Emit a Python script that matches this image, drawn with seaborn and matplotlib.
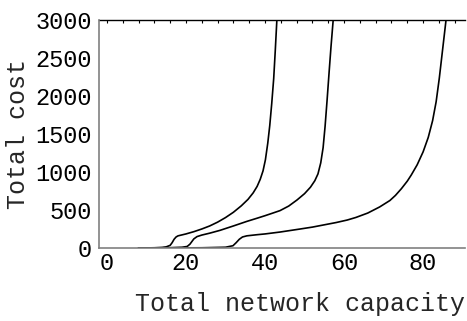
import matplotlib
matplotlib.use("Agg")
import matplotlib.pyplot as plt
import seaborn as sns
import pandas as pd
from matplotlib.ticker import MultipleLocator

# Data
curve1_x = [8, 10, 12, 14, 15, 16, 16.5, 17, 17.5, 18, 20, 22, 24, 26, 28, 30, 32, 34,
            35.7, 37, 38, 38.8, 39.5, 40.1, 40.7, 41.2, 41.7, 42.2, 42.6, 43.0]
curve1_y = [0, 1, 3, 8, 15, 35, 70, 115, 145, 160, 185, 215, 250, 290, 340, 400, 470, 555,
            640, 725, 810, 905, 1015, 1160, 1380, 1610, 1900, 2230, 2600, 3000]
curve2_x = [8, 12, 16, 19, 20.3, 21, 21.5, 22, 22.8, 24, 26, 28.6, 32, 35.4, 38, 40, 42,
            43.8, 46, 48.1, 50, 51.5, 52.6, 53.4, 54.1, 54.7, 55.2, 55.7, 56.2, 56.7, 57.25]
curve2_y = [0, 1, 4, 10, 20, 50, 85, 120, 150, 170, 195, 232, 290, 350, 392, 425, 460,
            492, 552, 632, 715, 800, 885, 975, 1120, 1320, 1600, 1940, 2300, 2650, 3000]
curve3_x = [8, 16, 24, 30, 31.9, 32.7, 33.5, 34.3, 35.4, 38, 40, 43.8, 48.9, 52, 55, 58,
            60.8, 63, 66, 69, 71.6, 73, 74.5, 76, 77, 78.5, 80, 81.3, 82.4, 83.3, 84.1, 84.9, 85.8]
curve3_y = [0, 1, 3, 10, 30, 70, 115, 145, 160, 175, 185, 210, 250, 275, 305, 335,
            368, 402, 460, 540, 625, 692, 780, 880, 960, 1095, 1265, 1455, 1675, 1925, 2235, 2595, 3000]

x_label = "Total network capacity"
y_label = "Total cost"

sns.set_style("white")
plt.rcParams['font.family'] = ['Liberation Mono', 'DejaVu Sans Mono']

fig = plt.figure(figsize=(4.67, 3.21), dpi=100)
ax = fig.add_axes([99 / 467, 1 - 248 / 321, (465 - 99) / 467, (248 - 20) / 321])

for xs, ys in [(curve1_x, curve1_y), (curve2_x, curve2_y), (curve3_x, curve3_y)]:
    df = pd.DataFrame({"x": xs, "y": ys})
    sns.lineplot(data=df, x="x", y="y", ax=ax, color="black", linewidth=1.2,
                 sort=False, estimator=None)

ax.set_xlim(-2, 90.6)
ax.set_ylim(0, 3000)

ax.xaxis.set_major_locator(MultipleLocator(20))
ax.xaxis.set_minor_locator(MultipleLocator(4))
ax.yaxis.set_major_locator(MultipleLocator(500))
ax.yaxis.set_minor_locator(MultipleLocator(100))

gray = "#808080"
for s in ["right", "top"]:
    ax.spines[s].set_visible(False)
for s in ["left", "bottom"]:
    ax.spines[s].set_color(gray)
    ax.spines[s].set_linewidth(1.2)

ax.tick_params(axis="both", which="major", direction="in", length=4, width=0.8,
               color=gray, labelsize=17, labelcolor="black")
ax.tick_params(axis="both", which="minor", direction="in", length=2.2, width=0.8,
               color=gray)
ax.tick_params(axis="y", which="major", pad=5)
ax.tick_params(axis="x", which="major", pad=3)

# top line with ticks
sec = ax.secondary_xaxis("top")
sec.xaxis.set_major_locator(MultipleLocator(20))
sec.xaxis.set_minor_locator(MultipleLocator(4))
sec.tick_params(axis="x", which="both", direction="in", length=2.5, width=0.8,
                color="black", labeltop=False)
sec.spines["top"].set_color("black")
sec.spines["top"].set_linewidth(1.0)

ax.set_xlabel(x_label, fontsize=18)
ax.xaxis.set_label_coords((300 - 99) / 366, -0.195)
ax.xaxis.label.set_va("top")
ax.set_ylabel(y_label, fontsize=18, labelpad=4)

fig.savefig("out.png", dpi=100)
